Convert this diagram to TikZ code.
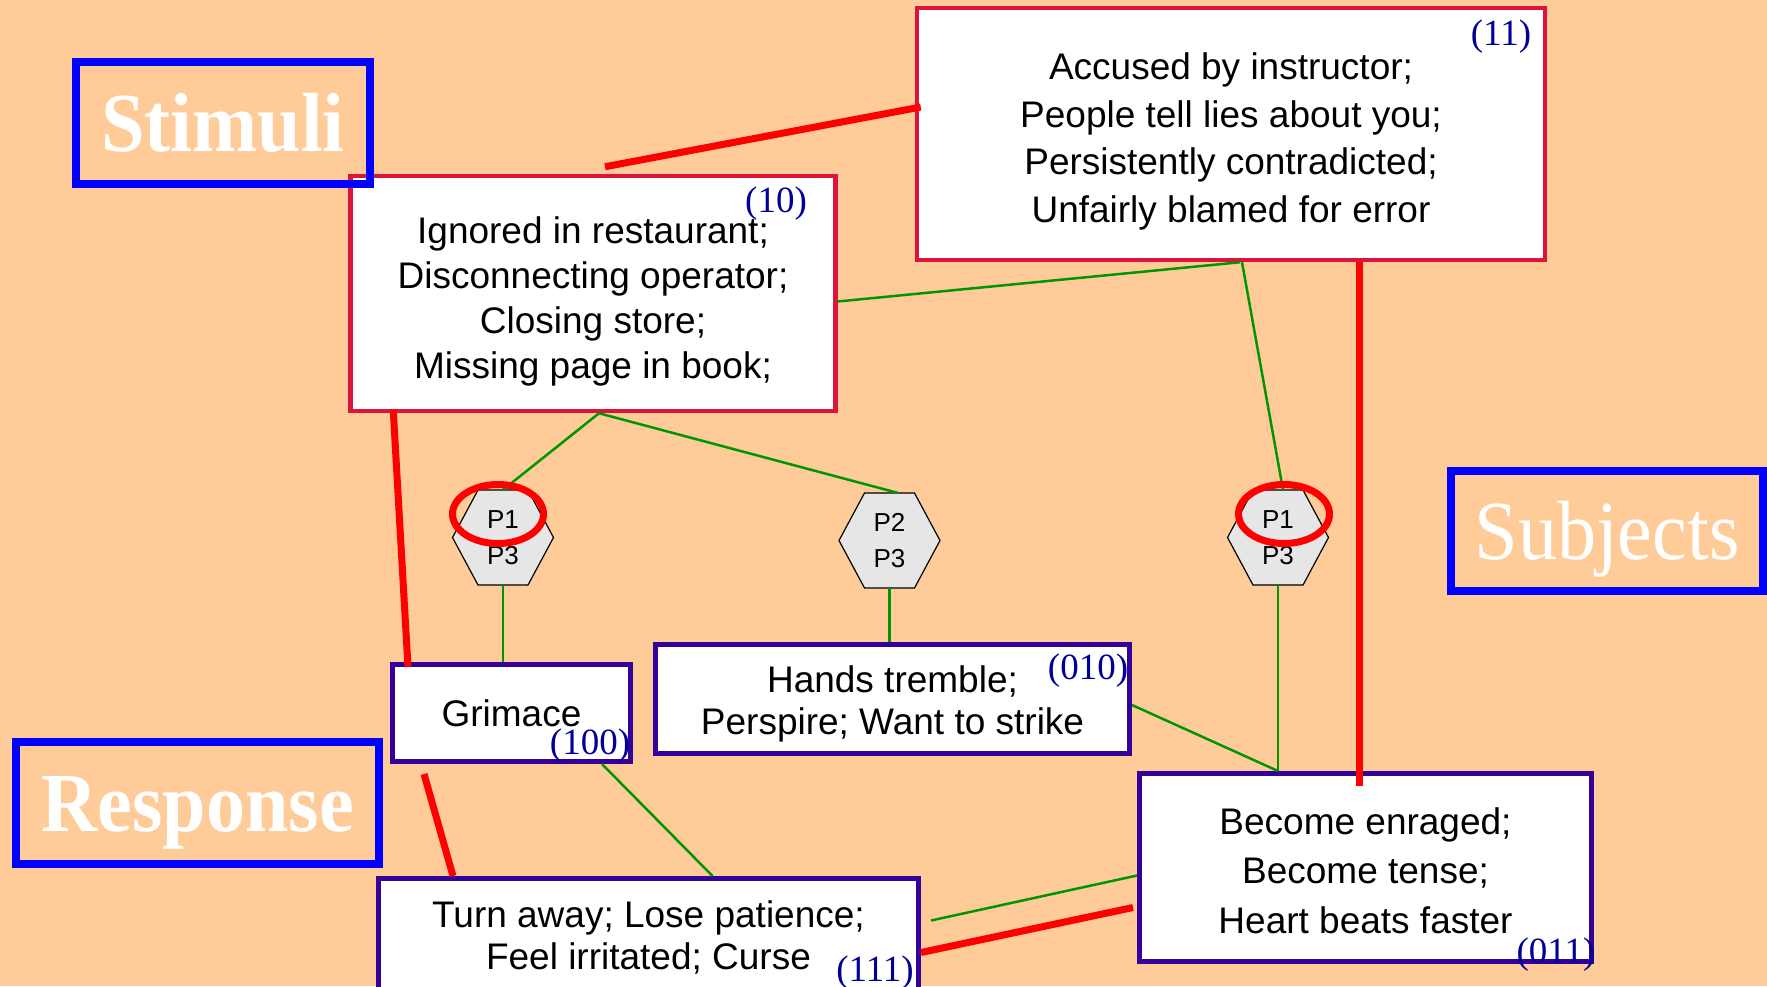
\documentclass[tikz,border=0pt]{standalone}
\usepackage{fontspec}
\setmainfont{Liberation Sans}
\newfontfamily\titlefont[FakeStretch=0.93]{Liberation Serif}
\newfontfamily\numfont{Liberation Serif}

\definecolor{peach}{RGB}{255,204,153}
\definecolor{tagblue}{RGB}{0,0,255}
\definecolor{stimred}{RGB}{220,20,60}
\definecolor{resppurple}{RGB}{51,0,153}
\definecolor{numblue}{RGB}{0,0,153}
\definecolor{linkgreen}{RGB}{0,150,0}
\definecolor{hexgrey}{RGB}{230,230,230}

\tikzset{
  tag/.style={draw=tagblue, line width=8pt, text=white, inner sep=0pt,
    text height=56pt, text depth=0pt, font=\titlefont\fontsize{84}{84}\selectfont},
  stim/.style={draw=stimred, line width=4.5pt, fill=white, inner sep=0pt,
    align=center, font=\fontsize{37}{46}\selectfont},
  resp/.style={draw=resppurple, line width=5pt, fill=white, inner sep=0pt,
    align=center, font=\fontsize{37}{42}\selectfont},
  num/.style={text=numblue, inner sep=0pt, font=\numfont\fontsize{37}{37}\selectfont},
  subj/.style={minimum width=101pt, minimum height=95pt, inner sep=0pt,
    align=center, font=\fontsize{26}{36}\selectfont},
  hexline/.style={draw=black, fill=hexgrey, line width=1.2pt},
  redlink/.style={draw=red, line width=7pt},
  greenlink/.style={draw=linkgreen, line width=2.5pt},
  ring/.style={draw=red, line width=7pt}
}

% hexagon behind a subject node
\newcommand{\hexat}[1]{%
  \path[hexline] ([shift={(-50.5,0)}]#1) -- ([shift={(-25,-47.5)}]#1)
    -- ([shift={(25,-47.5)}]#1) -- ([shift={(50.5,0)}]#1)
    -- ([shift={(25,47.5)}]#1) -- ([shift={(-25,47.5)}]#1) -- cycle;}
% tall first line, pushes a text block down in its box
\newcommand{\boxtop}[1]{\rule{0pt}{#1}}

\begin{document}
\begin{tikzpicture}[x=1pt,y=-1pt]
  \fill[peach] (0,0) rectangle (1767,986);
  \useasboundingbox (0,0) rectangle (1767,986);

  % subjects
  \hexat{503,537.5}
  \hexat{889.5,540.5}
  \hexat{1278,537.5}
  \node[subj] (p13a) at (503,537.5) {P1\\P3};
  \node[subj] (p23) at (889.5,540.5) {P2\\P3};
  \node[subj] (p13b) at (1278,537.5) {P1\\P3};

  % stimuli
  \node[stim, minimum width=628pt, minimum height=252pt, font=\fontsize{37}{47.5}\selectfont] (s11) at (1231,134)
    {\boxtop{42pt}Accused by instructor;\\People tell lies about you;\\Persistently contradicted;\\Unfairly blamed for error};
  \node[stim, minimum width=485pt, minimum height=235pt, font=\fontsize{37}{45}\selectfont] (s10) at (593,293.5)
    {\boxtop{42pt}Ignored in restaurant;\\Disconnecting operator;\\Closing store;\\Missing page in book;};

  % responses
  \node[resp, minimum width=238pt, minimum height=97pt] (r100) at (511.5,713) {Grimace};
  \node[resp, minimum width=474pt, minimum height=109pt] (r010) at (892.5,699)
    {\boxtop{36pt}Hands tremble;\\Perspire; Want to strike};
  \node[resp, minimum width=452pt, minimum height=188pt, font=\fontsize{37}{49.5}\selectfont] (r011) at (1365.5,867.5)
    {\boxtop{33pt}Become enraged;\\Become tense;\\Heart beats faster};
  \node[resp, minimum width=540pt, minimum height=118pt] (r111) at (648.5,937.5)
    {Turn away; Lose patience;\\Feel irritated; Curse};

  % links
  \draw[redlink] ([xshift=12pt,yshift=7pt]s10.north) -- ([xshift=6pt,yshift=27pt]s11.west);
  \draw[redlink] ([xshift=45pt,yshift=3pt]s10.south west) -- ([xshift=18pt,yshift=-5pt]r100.north west);
  \draw[redlink] ([xshift=34pt,yshift=-10pt]r100.south west) -- ([xshift=77pt]r111.north west);
  \draw[redlink] ([xshift=-6pt]r011.north |- s11.south) -- ([xshift=-6pt,yshift=-15pt]r011.north);
  \draw[redlink] ([yshift=-15pt]r111.east) -- ([xshift=-4pt,yshift=-40pt]r011.west);

  \draw[greenlink] ([yshift=-8pt]s10.east) -- ([xshift=9pt]s11.south);
  \draw[greenlink] ([xshift=11pt]s11.south) -- ([xshift=5pt]p13b.north);
  \draw[greenlink] ([xshift=6pt]s10.south) -- (p13a.north);
  \draw[greenlink] ([xshift=6pt]s10.south) -- ([xshift=8pt]p23.north);
  \draw[greenlink] (p13a.south) -- (p13a.south |- r100.north);
  \draw[greenlink] (p23.south) -- (p23.south |- r010.north);
  \draw[greenlink] (p13b.south) -- (p13b.south |- r011.north);
  \draw[greenlink] ([yshift=-6pt]r010.east) -- (p13b.south |- r011.north);
  \draw[greenlink] ([xshift=-31pt]r100.south east) -- ([xshift=64pt]r111.north);
  \draw[greenlink] ([xshift=10pt,yshift=17pt]r111.east) -- ([yshift=-8pt]r011.west);

  % P1 marks
  \draw[ring] ([xshift=-5pt,yshift=23.5pt]p13a.center) ellipse [x radius=45.5pt, y radius=29.5pt];
  \draw[ring] ([xshift=6pt,yshift=23.5pt]p13b.center) ellipse [x radius=45.5pt, y radius=29.5pt];

  % codes
  \node[num] (n11) at (1501,37) {(11)};
  \node[num] (n10) at (776,204) {(10)};
  \node[num] (n100) at (590,746) {(100)};
  \node[num] (n010) at (1088,671) {(010)};
  \node[num] (n011) at (1556,955) {(011)};
  \node[num] (n111) at (875,973) {(111)};

  % tags
  \node[tag, minimum width=294pt, minimum height=122pt] (stim) at (223,123) {\bfseries Stimuli};
  \node[tag, minimum width=312pt, minimum height=120pt] (subjt) at (1607,531) {Subjects};
  \node[tag, minimum width=363pt, minimum height=122pt] (resptag) at (197.5,803) {\bfseries Response};
\end{tikzpicture}
\end{document}
